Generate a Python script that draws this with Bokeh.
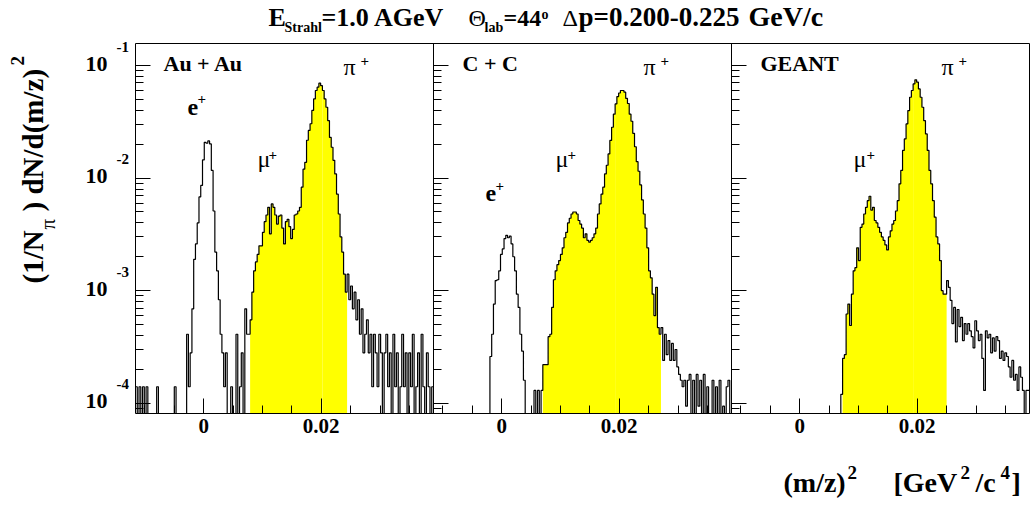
import numpy as np
from bokeh.plotting import figure
from bokeh.models import Range1d, LogAxis, LinearAxis, FixedTicker, CustomJSTickFormatter, Label
from bokeh.embed import file_html
from bokeh.resources import INLINE

# ---- histogram binning: (m/z)^2 bins of 0.0003 GeV^2/c^4, shown from -0.0116 ----
BIN = 0.0003
X_LO = -0.0116
NBINS = 169
PANEL_W = NBINS * BIN
X_HI = X_LO + 3 * PANEL_W
Y_UNIT = 1e-4            # bin contents below are given in units of 1e-4
Y_MIN, Y_MAX = 8.1e-5, 0.157

systems = ["Au + Au", "C + C", "GEANT"]

# (1/N_pi) dN/d(m/z)^2, units of 1e-4, one entry per bin
auau = [
    1.4, 0, 1.4, 0, 1.4, 0, 1.4, 0, 0, 0,
    0, 0, 1.4, 0, 0, 0, 0, 0, 0, 0,
    0, 0, 1.4, 0, 0, 0, 0, 0, 0, 4.1,
    1.4, 2.8, 6.9, 19, 26, 40, 68, 86, 145, 208,
    204, 214, 201, 117, 51, 22, 15, 8.3, 4.1, 2.8,
    1.4, 2.8, 0, 0, 1.4, 0, 0, 4.1, 0, 1.4,
    2.8, 0, 6.9, 4.1, 4.1, 5.5, 9.7, 15, 18, 21,
    25, 25, 33, 41, 47, 55, 32, 59, 55, 47,
    39, 46, 47, 36, 26, 41, 43, 37, 29, 35,
    47, 48, 51, 55, 83, 120, 138, 217, 265, 304,
    399, 505, 600, 642, 697, 662, 600, 505, 426, 324,
    230, 188, 144, 109, 72, 48, 30, 22, 14, 9.7,
    14, 8.3, 11, 6.9, 9.7, 5.5, 8.3, 4.1, 6.9, 2.8,
    4.1, 5.5, 2.8, 4.1, 1.4, 4.1, 2.8, 1.4, 4.1, 2.8,
    0, 2.8, 4.1, 1.4, 2.8, 0, 4.1, 1.4, 2.8, 0,
    1.4, 4.1, 1.4, 2.8, 0, 2.8, 1.4, 4.1, 0, 1.4,
    2.8, 0, 4.1, 1.4, 0, 2.8, 1.4, 0, 1.4,
]
cc = [
    0, 0, 0, 0, 0, 0, 0, 0, 0, 0,
    0, 0, 0, 0, 0, 0, 0, 0, 0, 0,
    0, 0, 0, 0, 0, 0, 0, 0, 0, 0,
    0, 0, 2.6, 4.1, 7.6, 12.3, 12.5, 15, 21, 23.5,
    29, 31, 29.5, 30.5, 26, 20, 15, 9.3, 7.1, 4.1,
    2.9, 1.6, 0, 0, 0, 0, 0, 1.3, 0, 1.3,
    0, 1.3, 2.2, 2.2, 2.2, 3.9, 4.1, 7.1, 12.5, 15,
    17, 18.5, 21, 24, 29.5, 33, 40, 44, 48, 50,
    50, 48, 42, 39, 36, 29.5, 32, 28, 27, 28,
    29.5, 32, 36, 48, 59, 72, 83, 109, 130, 164,
    216, 283, 370, 456, 530, 570, 600, 600, 580, 510,
    460, 370, 320, 250, 190, 140, 115, 87, 64, 48,
    36, 24, 15, 13, 9.3, 6.0, 10.7, 4.7, 4.1, 4.7,
    2.4, 4.1, 2.7, 3.6, 2.4, 3.4, 2.4, 3.0, 2.1, 1.8,
    1.6, 1.4, 1.6, 0.94, 1.6, 1.8, 0, 1.6, 0, 1.8,
    0.94, 1.6, 0, 1.8, 0, 1.4, 0, 0, 1.6, 0,
    1.4, 0, 1.6, 0, 0.94, 0, 1.4, 1.6, 0,
]
geant = [
    0, 0, 0, 0, 0, 0, 0, 0, 0, 0,
    0, 0, 0, 0, 0, 0, 0, 0, 0, 0,
    0, 0, 0, 0, 0, 0, 0, 0, 0, 0,
    0, 0, 0, 0, 0, 0, 0, 0, 0, 0,
    0, 0, 0, 0, 0, 0, 0, 0, 0, 0,
    0, 0, 0, 0, 0, 0, 0, 0, 0, 0,
    0, 0, 1.2, 2.5, 2.7, 6.2, 7.6, 4.9, 9.3, 15,
    16, 24, 18.5, 36.5, 39, 48, 55, 63, 69, 52,
    55, 42, 40, 36.5, 33, 30, 28, 25.5, 23, 30,
    34, 39, 42, 51, 63, 89, 117, 176, 223, 303,
    398, 523, 600, 687, 746, 711, 620, 523, 426, 324,
    247, 176, 117, 89, 63, 45, 30, 26, 18.5, 10,
    9.3, 9.3, 12.3, 10.7, 8.2, 5.1, 7.1, 3.5, 6.8, 4.8,
    5.8, 3.6, 5.1, 4.1, 5.1, 4.4, 3.9, 3.1, 5.4, 4.4,
    3.6, 4.1, 2.5, 1.3, 4.4, 3.8, 4.1, 2.8, 3.8, 2.9,
    3.9, 3.6, 2.5, 2.9, 2.4, 2.8, 2.6, 2.1, 1.7, 2.4,
    1.6, 1.8, 1.3, 2.1, 1.7, 1.3, 0, 1.3, 1.3,
]
spectra = [auau, cc, geant]

# muon + pion selection window (first bin, bin where the fill is split, last bin)
selection = [(65, 106, 119), (62, 103, 128), (63, 103, 121)]

x_major = [0.0, 0.02]
x_minor = [-0.01, -0.005, 0.005, 0.01, 0.015, 0.025, 0.03, 0.035]
y_decades = [1e-4, 1e-3, 1e-2, 1e-1]
y_exponents = ["-4", "-3", "-2", "-1"]

FONT = "Liberation Serif"

# page geometry: the plotting frame fills the page, panels sit inside it
PAGE_W, PAGE_H = 1031, 506
BOX_L, BOX_R, BOX_T, BOX_B = 135, 1029, 43, 413
px_per_x = (BOX_R - BOX_L) / (X_HI - X_LO)
px_per_dec = (BOX_B - BOX_T) / (np.log10(Y_MAX) - np.log10(Y_MIN))
xr = Range1d(X_LO - BOX_L / px_per_x, X_LO + (PAGE_W - BOX_L) / px_per_x)
yr = Range1d(10 ** (np.log10(Y_MIN) - (PAGE_H - BOX_B) / px_per_dec),
             10 ** (np.log10(Y_MAX) + BOX_T / px_per_dec))

p = figure(frame_width=PAGE_W, frame_height=PAGE_H, x_range=xr, y_range=yr,
           y_axis_type="log", x_axis_location=None, y_axis_location=None,
           min_border=0, output_backend="svg", toolbar_location=None)
p.xgrid.grid_line_color = None
p.ygrid.grid_line_color = None
p.outline_line_color = None
p.background_fill_color = "white"
p.border_fill_color = "white"

for k, vals in enumerate(spectra):
    off = k * PANEL_W
    y = np.asarray(vals, dtype=float) * Y_UNIT
    y = np.where(y > Y_MIN, y, Y_MIN)
    edges = X_LO + off + BIN * np.arange(len(y) + 1)

    first, split, last = selection[k]
    for a, b in [(first, split - 1), (split, last)]:
        xs = [edges[a]]
        ys = [Y_MIN]
        for i in range(a, b + 1):
            xs += [edges[i], edges[i + 1]]
            ys += [y[i], y[i]]
        xs.append(edges[b + 1])
        ys.append(Y_MIN)
        p.patch(xs, ys, fill_color="#ffff00", line_color=None)

    p.step(edges, np.append(y, y[-1]), mode="after",
           line_color="black", line_width=1.2)

# x axis along the panel bottom: one tick set per panel, labelled in panel-local units
xt, xm = [], []
for k in range(3):
    off = k * PANEL_W
    xt += [v + off for v in x_major]
    xm += [v + off for v in x_minor]
xax = LinearAxis(fixed_location=Y_MIN, bounds=(X_LO, X_HI))
xax.ticker = FixedTicker(ticks=xt, minor_ticks=xm)
xax.formatter = CustomJSTickFormatter(args=dict(x0=X_LO, w=PANEL_W), code="""
    const k = Math.floor((tick - x0) / w);
    const loc = tick - k * w;
    return Math.abs(loc) < 1e-9 ? "0" : loc.toFixed(2);
""")
xax.major_tick_in = 15
xax.major_tick_out = 0
xax.minor_tick_in = 8
xax.minor_tick_out = 0
xax.axis_line_color = "black"
xax.major_tick_line_color = "black"
xax.minor_tick_line_color = "black"
xax.major_label_text_font = FONT
xax.major_label_text_font_style = "bold"
xax.major_label_text_font_size = "21px"
xax.major_label_text_color = "black"
xax.major_label_standoff = 5
p.add_layout(xax, "below")

y_minor = [9e-5] + [m * d for d in y_decades[:3] for m in range(2, 10)]

# one log axis on the left edge of every panel
for k in range(3):
    ax = LogAxis(fixed_location=X_LO + k * PANEL_W, bounds=(Y_MIN, Y_MAX))
    ax.ticker = FixedTicker(ticks=y_decades, minor_ticks=y_minor)
    ax.formatter = CustomJSTickFormatter(code="return '';")
    ax.major_tick_in = 15
    ax.major_tick_out = 0
    ax.minor_tick_in = 8
    ax.minor_tick_out = 0
    ax.axis_line_color = "black"
    ax.major_tick_line_color = "black"
    ax.minor_tick_line_color = "black"
    ax.major_label_standoff = 0
    p.add_layout(ax, "left")

# closing lines of the panel box (top and right)
top = LinearAxis(fixed_location=Y_MAX, bounds=(X_LO, X_HI),
                 ticker=FixedTicker(ticks=[]), formatter=CustomJSTickFormatter(code="return '';"),
                 major_tick_in=0, major_tick_out=0, minor_tick_in=0, minor_tick_out=0,
                 axis_line_color="black")
p.add_layout(top, "above")
right = LogAxis(fixed_location=X_HI, bounds=(Y_MIN, Y_MAX),
                ticker=FixedTicker(ticks=[]), formatter=CustomJSTickFormatter(code="return '';"),
                major_tick_in=0, major_tick_out=0, minor_tick_in=0, minor_tick_out=0,
                axis_line_color="black")
p.add_layout(right, "right")

MID = 0.42   # distance from the text baseline to its vertical middle, in em


def put(text, cx, base, size, bold=True, rotated=False):
    """Place text whose left end is at cx and whose baseline lies at base (page pixels).
    Rotated texts read upwards: cx is then the start row and base the baseline column."""
    if rotated:
        x, y, ang = base - MID * size, PAGE_H - cx, np.pi / 2
    else:
        x, y, ang = cx, PAGE_H - (base - MID * size), 0.0
    p.add_layout(Label(x=x, y=y, x_units="screen", y_units="screen", angle=ang,
                       text=text, text_font=FONT, text_font_size=f"{size}px",
                       text_font_style="bold" if bold else "normal",
                       text_align="left", text_baseline="middle", text_color="black"))


# y tick labels 10^n
for d, e in zip(y_decades, y_exponents):
    p.add_layout(Label(x=107, y=d, x_units="screen", y_units="data", y_offset=2,
                       text="10", text_font=FONT, text_font_size="22px",
                       text_font_style="bold", text_align="right", text_baseline="middle",
                       text_color="black"))
    p.add_layout(Label(x=116, y=d, x_units="screen", y_units="data", y_offset=19,
                       text=e, text_font=FONT, text_font_size="15px",
                       text_font_style="bold", text_align="left", text_baseline="middle",
                       text_color="black"))

# title
put("E", 268, 28, 26)
put("Strahl", 284, 33, 14)
put("=1.0 AGeV", 321, 28, 26)
put("\u0398", 468, 28, 24, bold=False)
put("lab", 484, 33, 14)
put("=44", 503, 28, 24)
put("o", 541, 20, 14)
put("\u0394", 562, 28, 24, bold=False)
put("p=0.200-0.225", 578, 28, 27)
put("GeV/c", 748, 28, 28)

# y axis title (reads upwards): start row, baseline column
put("(1/N", 283, 45, 29, rotated=True)
put("\u03c0", 229, 56, 21, bold=False, rotated=True)
put(") dN/d(m/z)", 211, 45, 29, rotated=True)
put("2", 65, 25, 19, rotated=True)

# x axis title
put("(m/z)", 783, 494, 28)
put("2", 847, 480, 19)
put("[GeV", 893, 494, 28)
put("2", 960, 480, 19)
put("/c", 975, 494, 28)
put("4", 1000, 480, 19)
put("]", 1011, 494, 28)

# panel names
for name, cx in zip(systems, [163, 462, 760]):
    put(name, cx, 72, 22)

# particle tags
put("e", 187, 117, 24)
put("+", 197, 105, 15)
put("\u03bc", 257, 169, 24, bold=False)
put("+", 268, 161, 15)
put("\u03c0", 343, 77, 24, bold=False)
put("+", 360, 67, 15)

put("e", 485, 203, 24)
put("+", 495, 192, 15)
put("\u03bc", 555, 169, 24, bold=False)
put("+", 567, 161, 15)
put("\u03c0", 643, 77, 24, bold=False)
put("+", 660, 67, 15)

put("\u03bc", 853, 169, 24, bold=False)
put("+", 866, 161, 15)
put("\u03c0", 941, 77, 24, bold=False)
put("+", 958, 67, 15)

open("out.html", "w").write(file_html(p, INLINE))
